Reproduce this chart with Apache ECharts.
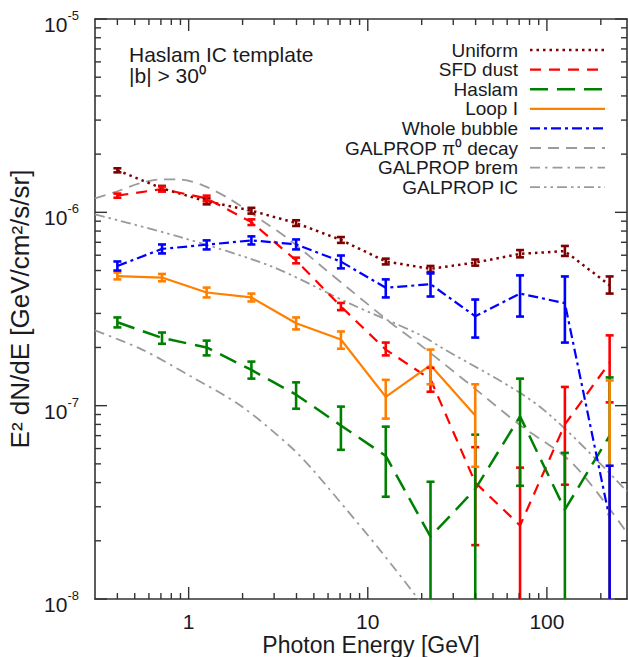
<!DOCTYPE html>
<html><head><meta charset="utf-8">
<script src="https://cdn.jsdelivr.net/npm/echarts@6/dist/echarts.min.js"></script>
<style>html,body{margin:0;padding:0;background:#fff}#c{width:628px;height:657px}</style>
</head><body><div id="c"></div>
<script>
// ---------- data ----------
const energies = [0.40, 0.71, 1.26, 2.24, 3.98, 7.08, 12.6, 22.4, 39.8, 70.8, 126, 224];

const uniformVal = [1.65e-6, 1.33e-6, 1.14e-6, 1.02e-6, 8.8e-7, 7.2e-7, 5.57e-7, 5.1e-7, 5.5e-7, 6.1e-7, 6.3e-7, 4.2e-7];
const uniformLo  = [1.61e-6, 1.29e-6, 1.10e-6, 0.985e-6, 8.5e-7, 6.95e-7, 5.38e-7, 4.92e-7, 5.3e-7, 5.85e-7, 5.95e-7, 3.8e-7];
const uniformHi  = [1.69e-6, 1.37e-6, 1.18e-6, 1.055e-6, 9.1e-7, 7.45e-7, 5.76e-7, 5.28e-7, 5.7e-7, 6.38e-7, 6.7e-7, 4.66e-7];

const sfdVal = [1.22e-6, 1.32e-6, 1.18e-6, 8.9e-7, 5.64e-7, 3.26e-7, 1.95e-7, 1.37e-7, 4.0e-8, 2.4e-8, 8.0e-8, 1.67e-7];
const sfdLo  = [1.19e-6, 1.28e-6, 1.14e-6, 8.6e-7, 5.45e-7, 3.12e-7, 1.82e-7, 1.18e-7, 1.9e-8, 0, 3.9e-8, 1.04e-7];
const sfdHi  = [1.25e-6, 1.36e-6, 1.22e-6, 9.2e-7, 5.83e-7, 3.4e-7, 2.12e-7, 1.57e-7, 6.1e-8, 4.78e-8, 1.25e-7, 2.31e-7];

const haslamVal = [2.7e-7, 2.24e-7, 2.0e-7, 1.53e-7, 1.14e-7, 7.9e-8, 5.5e-8, 2.1e-8, 3.7e-8, 8.8e-8, 2.9e-8, 7.0e-8];
const haslamLo  = [2.54e-7, 2.09e-7, 1.82e-7, 1.38e-7, 9.64e-8, 5.91e-8, 3.38e-8, 0, 0, 3.85e-8, 0, 0];
const haslamHi  = [2.86e-7, 2.39e-7, 2.17e-7, 1.69e-7, 1.32e-7, 9.89e-8, 7.79e-8, 4.04e-8, 7.08e-8, 1.38e-7, 5.7e-8, 1.40e-7];

const loopVal = [4.68e-7, 4.6e-7, 3.85e-7, 3.63e-7, 2.67e-7, 2.2e-7, 1.11e-7, 1.62e-7, 8.9e-8, null, null, null];
const loopLo  = [4.5e-7, 4.4e-7, 3.63e-7, 3.46e-7, 2.48e-7, 1.97e-7, 8.57e-8, 1.29e-7, 4.83e-8, 0, 0, 0];
const loopHi  = [4.89e-7, 4.8e-7, 4.08e-7, 3.8e-7, 2.86e-7, 2.42e-7, 1.36e-7, 1.95e-7, 1.29e-7, 9.6e-9, 9.6e-9, 1.35e-7];

const bubbleVal = [5.28e-7, 6.47e-7, 6.8e-7, 7.16e-7, 6.83e-7, 5.56e-7, 4.07e-7, 4.25e-7, 2.9e-7, 3.8e-7, 3.39e-7, 2.6e-8];
const bubbleLo  = [5.0e-7, 6.13e-7, 6.43e-7, 6.82e-7, 6.43e-7, 5.13e-7, 3.63e-7, 3.67e-7, 2.25e-7, 2.89e-7, 2.12e-7, 0];
const bubbleHi  = [5.57e-7, 6.82e-7, 7.16e-7, 7.51e-7, 7.24e-7, 5.98e-7, 4.5e-7, 4.83e-7, 3.54e-7, 4.72e-7, 4.66e-7, 4.89e-8];

const pi0E   = [0.3, 0.4, 0.53, 0.69, 0.89, 1.2, 1.7, 2.6, 3.66, 5.6, 7.9, 13.8, 19.5, 37, 70, 140, 280];
const pi0Val = [1.18e-6, 1.285e-6, 1.41e-6, 1.48e-6, 1.48e-6, 1.38e-6, 1.17e-6, 9.0e-7, 7.2e-7, 5.2e-7, 4.0e-7, 2.63e-7, 2.07e-7, 1.29e-7, 8.0e-8, 5.0e-8, 2.2e-8];

const bremE   = [0.3, 0.55, 1.04, 1.98, 3.76, 4.93, 7.63, 11.7, 18.8, 22];
const bremVal = [2.45e-7, 1.95e-7, 1.41e-7, 9.9e-8, 6.06e-8, 4.66e-8, 2.89e-8, 1.79e-8, 1.02e-8, 8.2e-9];

const icE   = [0.3, 0.91, 2.9, 7.9, 19.5, 25.3, 91, 280];
const icVal = [9.76e-7, 7.42e-7, 5.25e-7, 3.38e-7, 2.33e-7, 2.02e-7, 9.9e-8, 3.6e-8];

const xMajorTicks = [1, 10, 100];
const yMajorTicks = [1e-8, 1e-7, 1e-6, 1e-5];

// ---------- chart ----------
const X_MIN = 0.3, X_MAX = 280, Y_MIN = 1e-8, Y_MAX = 1e-5;
const FONT = 'Liberation Sans, Arial, Helvetica, sans-serif';
const TXT = '#1a1a22';

const xMinorTicks = [], yMinorTicks = [];
[0.1, 1, 10, 100].forEach(d => { for (let m = 2; m <= 9; m++) { const v = m * d; if (v > 0.31 && v < X_MAX) xMinorTicks.push(v); } });
[1e-8, 1e-7, 1e-6].forEach(d => { for (let m = 2; m <= 9; m++) yMinorTicks.push(m * d); });

function errRender(color) {
  return function (params, api) {
    const cs = params.coordSys;
    const top = cs.y, bot = cs.y + cs.height;
    const e = api.value(0), lo = api.value(1), hi = api.value(2);
    if (!(hi >= Y_MIN)) return null;
    const px = api.coord([e, Y_MIN])[0];
    const yHi = Math.max(top, api.coord([e, Math.min(hi, Y_MAX)])[1]);
    const loIn = lo >= Y_MIN;
    const yLo = loIn ? api.coord([e, lo])[1] : bot;
    const st = { stroke: color, lineWidth: 2.6, fill: null };
    const ch = [{ type: 'line', shape: { x1: px, y1: yHi, x2: px, y2: yLo }, style: st }];
    if (hi <= Y_MAX) ch.push({ type: 'line', shape: { x1: px - 4, y1: yHi, x2: px + 4, y2: yHi }, style: st });
    if (loIn) ch.push({ type: 'line', shape: { x1: px - 4, y1: yLo, x2: px + 4, y2: yLo }, style: st });
    return { type: 'group', children: ch };
  };
}

function tickRender(params, api) {
  const cs = params.coordSys;
  const L = cs.x, R = cs.x + cs.width, T = cs.y, B = cs.y + cs.height;
  const st = { stroke: '#333', lineWidth: 1.4 };
  const ch = [];
  xMinorTicks.forEach(v => { const x = api.coord([v, Y_MIN])[0];
    ch.push({ type: 'line', shape: { x1: x, y1: B, x2: x, y2: B - 6 }, style: st });
    ch.push({ type: 'line', shape: { x1: x, y1: T, x2: x, y2: T + 6 }, style: st }); });
  xMajorTicks.forEach(v => { const x = api.coord([v, Y_MIN])[0];
    ch.push({ type: 'line', shape: { x1: x, y1: B, x2: x, y2: B - 12 }, style: st });
    ch.push({ type: 'line', shape: { x1: x, y1: T, x2: x, y2: T + 12 }, style: st }); });
  yMinorTicks.forEach(v => { const y = api.coord([X_MIN, v])[1];
    ch.push({ type: 'line', shape: { x1: L, y1: y, x2: L + 6, y2: y }, style: st });
    ch.push({ type: 'line', shape: { x1: R, y1: y, x2: R - 6, y2: y }, style: st }); });
  yMajorTicks.forEach(v => { const y = api.coord([X_MIN, v])[1];
    ch.push({ type: 'line', shape: { x1: L, y1: y, x2: L + 12, y2: y }, style: st });
    ch.push({ type: 'line', shape: { x1: R, y1: y, x2: R - 12, y2: y }, style: st }); });
  return { type: 'group', children: ch };
}

const pair = (xs, ys) => xs.map((x, i) => [x, ys[i]]);

function lineS(name, xs, ys, color, width, dash, smooth) {
  return { type: 'line', name, data: pair(xs, ys), symbol: 'none', showSymbol: false, smooth: smooth || false,
    connectNulls: false, clip: true, animation: false, z: 3,
    lineStyle: { color, width, type: dash, cap: 'butt' } };
}
function errS(name, lo, hi, color) {
  return { type: 'custom', name: name + ' errors', data: energies.map((e, i) => [e, lo[i], hi[i]]),
    renderItem: errRender(color), encode: { x: 0, y: 2 }, animation: false, z: 4, clip: false, silent: true };
}

const C = {
  uni: '#7f0000', sfd: '#ff0000', has: '#008000', loop: '#ff8000', bub: '#0000ff', gray: '#9a9a9a'
};
const S = {
  uni: [2.5, 4], sfd: [11, 8], has: [18, 9], loop: 'solid', bub: [10, 4, 3, 4],
  pi0: [11, 7], brem: [10, 5, 2.5, 5], ic: [10, 4, 2.5, 4, 2.5, 4]
};

const axisLine = { show: true, onZero: false, lineStyle: { color: '#333', width: 1.6 } };

const option = {
  animation: false,
  backgroundColor: '#fff',
  grid: { left: 95, top: 19, right: 1, bottom: 58, containLabel: false, outerBoundsMode: 'none' },
  xAxis: [
    { type: 'log', logBase: 10, min: X_MIN, max: X_MAX, position: 'bottom', axisLine,
      axisTick: { show: false }, minorTick: { show: false }, splitLine: { show: false },
      axisLabel: { margin: 12, fontSize: 21, lineHeight: 21, color: TXT, fontFamily: FONT,
        formatter: v => { const p = Math.log10(v); const r = Math.round(p);
          return (Math.abs(p - r) < 1e-6 && r >= 0) ? String(Math.pow(10, r)) : ''; } } },
    { type: 'log', logBase: 10, min: X_MIN, max: X_MAX, position: 'top', axisLine,
      axisTick: { show: false }, axisLabel: { show: false }, splitLine: { show: false } }
  ],
  yAxis: [
    { type: 'log', logBase: 10, min: Y_MIN, max: Y_MAX, position: 'left', axisLine,
      axisTick: { show: false }, minorTick: { show: false }, splitLine: { show: false },
      axisLabel: { margin: 16, color: TXT, fontFamily: FONT, padding: [6, 0, 0, 0],
        formatter: v => { const p = Math.log10(v); const r = Math.round(p);
          return Math.abs(p - r) < 1e-6 ? '{b|10}{s|' + r + '}' : ''; },
        rich: { b: { fontSize: 21, color: TXT, fontFamily: FONT, lineHeight: 26, verticalAlign: 'bottom' },
                s: { fontSize: 13, color: TXT, fontFamily: FONT, lineHeight: 26, verticalAlign: 'top' } } },
      name: 'E² dN/dE [GeV/cm²/s/sr]', nameLocation: 'middle', nameGap: 61, nameRotate: 90,
      nameTextStyle: { fontSize: 26, color: TXT, fontFamily: FONT } },
    { type: 'log', logBase: 10, min: Y_MIN, max: Y_MAX, position: 'right', axisLine,
      axisTick: { show: false }, axisLabel: { show: false }, splitLine: { show: false } }
  ],
  series: [
    lineS('GALPROP π0 decay', pi0E, pi0Val, C.gray, 1.8, S.pi0, 0.3),
    lineS('GALPROP brem', bremE, bremVal, C.gray, 1.8, S.brem, 0.3),
    lineS('GALPROP IC', icE, icVal, C.gray, 1.8, S.ic, 0.3),
    lineS('Uniform', energies, uniformVal, C.uni, 2.5, S.uni),
    errS('Uniform', uniformLo, uniformHi, C.uni),
    lineS('SFD dust', energies, sfdVal, C.sfd, 2.2, S.sfd),
    errS('SFD dust', sfdLo, sfdHi, C.sfd),
    lineS('Haslam', energies, haslamVal, C.has, 2.5, S.has),
    errS('Haslam', haslamLo, haslamHi, C.has),
    lineS('Loop I', energies, loopVal, C.loop, 2.2, S.loop),
    errS('Loop I', loopLo, loopHi, C.loop),
    lineS('Whole bubble', energies, bubbleVal, C.bub, 2.2, S.bub),
    errS('Whole bubble', bubbleLo, bubbleHi, C.bub),
    { type: 'custom', name: 'ticks', data: [[1, 1e-6]], renderItem: tickRender, clip: false, silent: true, z: 10, animation: false }
  ]
};

// legend & annotation (gnuplot-style key: text right-aligned, sample to the right)
const legendItems = [
  { label: 'Uniform', color: C.uni, w: 2.5, dash: [2.5, 4] },
  { label: 'SFD dust', color: C.sfd, w: 2.2, dash: [11, 8] },
  { label: 'Haslam', color: C.has, w: 2.5, dash: [18, 9] },
  { label: 'Loop I', color: C.loop, w: 2.2, dash: null },
  { label: 'Whole bubble', color: C.bub, w: 2.2, dash: [10, 4, 3, 4] },
  { label: 'GALPROP π⁰ decay', color: C.gray, w: 1.8, dash: [11, 7] },
  { label: 'GALPROP brem', color: C.gray, w: 1.8, dash: [10, 5, 2.5, 5] },
  { label: 'GALPROP IC', color: C.gray, w: 1.8, dash: [10, 4, 2.5, 4, 2.5, 4] }
];
const graphics = [];
legendItems.forEach((it, i) => {
  const y = 50 + i * 19.6;
  graphics.push({ type: 'text', x: 518, y, style: { text: it.label, fontSize: 19, fontFamily: FONT, fill: TXT,
    align: 'right', verticalAlign: 'middle' } });
  graphics.push({ type: 'line', shape: { x1: 530, y1: y, x2: 605, y2: y },
    style: { stroke: it.color, lineWidth: it.w, lineDash: it.dash || null } });
});
graphics.push({ type: 'text', left: 129, top: 44, style: { text: 'Haslam IC template', fontSize: 21, fontFamily: FONT, fill: TXT } });
graphics.push({ type: 'text', left: 129, top: 65, style: { text: '|b| > 30⁰', fontSize: 21, fontFamily: FONT, fill: TXT } });
// x-axis title
graphics.push({ type: 'text', x: 371, y: 645, style: { text: 'Photon Energy [GeV]', fontSize: 23, lineHeight: 22, fontFamily: FONT, fill: TXT,
  align: 'center', verticalAlign: 'middle' } });
option.graphic = graphics;

const chart = echarts.init(document.getElementById('c'), null, { renderer: 'svg' });
chart.setOption(option);
</script>
</body></html>
